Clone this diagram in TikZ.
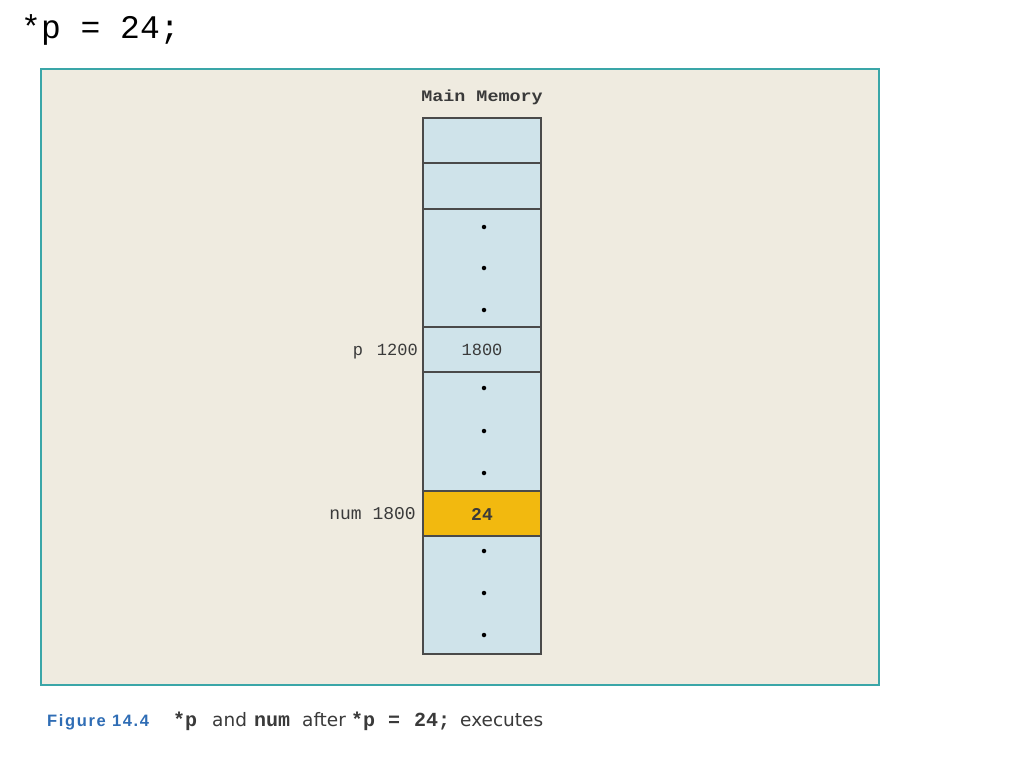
\documentclass[tikz,border=0pt]{standalone}
\usepackage{fontspec}
\setmainfont{Liberation Serif}
\setsansfont{DejaVu Sans}
\setmonofont{Liberation Mono}
\newfontfamily\figfont{Liberation Sans}
\definecolor{frame}{HTML}{3AA6A8}
\definecolor{paper}{HTML}{EFEBE0}
\definecolor{cell}{HTML}{CFE3EA}
\definecolor{hot}{HTML}{F2B90F}
\definecolor{cellline}{HTML}{4A4A4A}
\definecolor{figblue}{HTML}{2F6DB5}
\definecolor{txt}{HTML}{3A3A3A}
\begin{document}
\begin{tikzpicture}[x=1pt,y=-1pt,
  memcell/.style={draw=cellline,line width=1.2pt,fill=cell},
  dotmark/.style={circle,fill=black,inner sep=0pt,minimum size=4.5pt},
  lbl/.style={font=\fontsize{17}{19}\selectfont\ttfamily,text=txt,inner sep=0pt},
  capmono/.style={anchor=base west,inner sep=0pt,font=\fontsize{20}{22}\selectfont\ttfamily\bfseries,text=txt},
  capword/.style={anchor=base west,inner sep=0pt,font=\fontsize{18.5}{20}\selectfont\sffamily,text=txt}]
\useasboundingbox (0,0) rectangle (1024,768);
\fill[white] (0,0) rectangle (1024,768);
\node[anchor=base west,inner sep=0pt,font=\fontsize{33}{35}\selectfont\ttfamily] (code) at (21,39) {*p = 24;};
\draw[frame,fill=paper,line width=2pt] (41,69) rectangle (879,685);
\node[lbl,font=\fontsize{16}{18}\selectfont\ttfamily\bfseries,xscale=1.15] (title) at (482,97) {Main Memory};
% cells
\draw[memcell] (423,118) rectangle (541,163);
\draw[memcell] (423,163) rectangle (541,209);
\draw[memcell] (423,209) rectangle (541,327);
\draw[memcell] (423,327) rectangle (541,372) node[midway,lbl] (pval) {1800};
\draw[memcell] (423,372) rectangle (541,491);
\draw[memcell,fill=hot] (423,491) rectangle (541,536) node[midway,lbl,font=\fontsize{18}{20}\selectfont\ttfamily\bfseries,yshift=-1pt] (nval) {24};
\draw[memcell] (423,536) rectangle (541,654);
\foreach \y [count=\i] in {227,268,310,388,431,473,551,593,635}
  \node[dotmark] (d\i) at (484,\y) {};
\node[lbl,anchor=east] (plbl) at (418,352) {p\hspace{14pt}1200};
\node[lbl,anchor=east,font=\fontsize{18}{20}\selectfont\ttfamily] (nlbl) at (416,514) {num 1800};
% caption
\node[anchor=base west,inner sep=0pt,font=\fontsize{16.5}{18}\selectfont\figfont\bfseries\addfontfeatures{LetterSpace=10},text=figblue] (fig) at (47,726) {Figure 14.4};
\node[capmono] (c1) at (173,726) {*p};
\node[capword] (c2) at (212,726) {and};
\node[capmono] (c3) at (254,726) {num};
\node[capword] (c4) at (302,726) {after};
\node[capmono] (c5) at (351,726) {*p};
\node[capmono] (c6) at (388,726) {=};
\node[capmono] (c7) at (414,726) {24;};
\node[capword] (c8) at (460,726) {executes};
\end{tikzpicture}
\end{document}
